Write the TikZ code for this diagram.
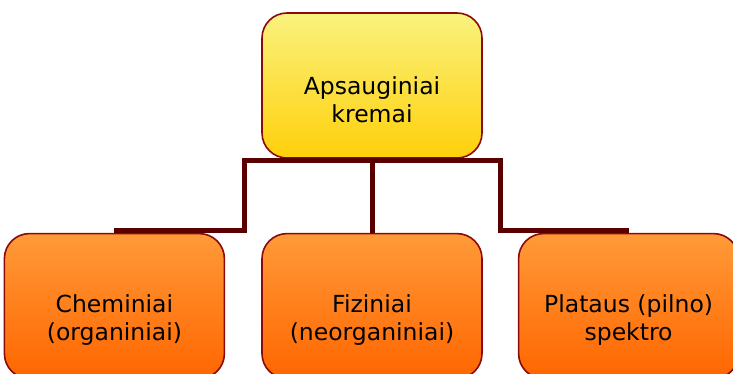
\documentclass[tikz,border=0pt]{standalone}
\usepackage{fontspec}
\setmainfont{DejaVu Sans}
\usetikzlibrary{positioning}
\definecolor{rimred}{HTML}{8B0A0A}
\definecolor{linkred}{HTML}{5A0000}
\definecolor{sunlight}{HTML}{F9F27E}
\definecolor{sundeep}{HTML}{FFD00A}
\definecolor{peel}{HTML}{FF9A38}
\definecolor{peeldeep}{HTML}{FF6600}
\tikzset{
    x=1pt, y=-1pt,
    card/.style={draw=rimred, line width=1.6pt, rounded corners=25pt,
        minimum width=220pt, minimum height=145pt},
    rootcard/.style={card, top color=sunlight, bottom color=sundeep},
    leafcard/.style={card, top color=peel, bottom color=peeldeep},
    caption/.style={align=center, text=black,
        font=\fontsize{23.5}{28}\selectfont},
    link/.style={draw=linkred, line width=5pt},
}

\begin{document}
\begin{tikzpicture}

\useasboundingbox (0,0) rectangle (733,374);
\clip (0,0) rectangle (733,374);

\node[rootcard] (cream) at (372,85.5) {};
\node[leafcard] (phys) [below=74pt of cream] {};
\node[leafcard] (chem) [left=36pt of phys] {};
\node[leafcard] (full) [right=35pt of phys] {};

\node[caption] (creamtext) at ([yshift=-14pt]cream.center) {Apsauginiai\\kremai};
\node[caption] (chemtext) at ([yshift=-14pt]chem.center) {Cheminiai\\(organiniai)};
\node[caption] (phystext) at ([yshift=-14pt]phys.center) {Fiziniai\\(neorganiniai)};
\node[caption] (fulltext) at ([yshift=-14pt]full.center) {Plataus (pilno)\\spektro};

\draw[link] ([yshift=-1.5pt]cream.south) -- (phys.north);
\draw[link] ([yshift=-1.5pt]cream.south) -| ++(-128,0) |- ([yshift=2pt]chem.north);
\draw[link] ([yshift=-1.5pt]cream.south) -| ++(128,0) |- ([yshift=2pt]full.north);

\end{tikzpicture}
\end{document}
